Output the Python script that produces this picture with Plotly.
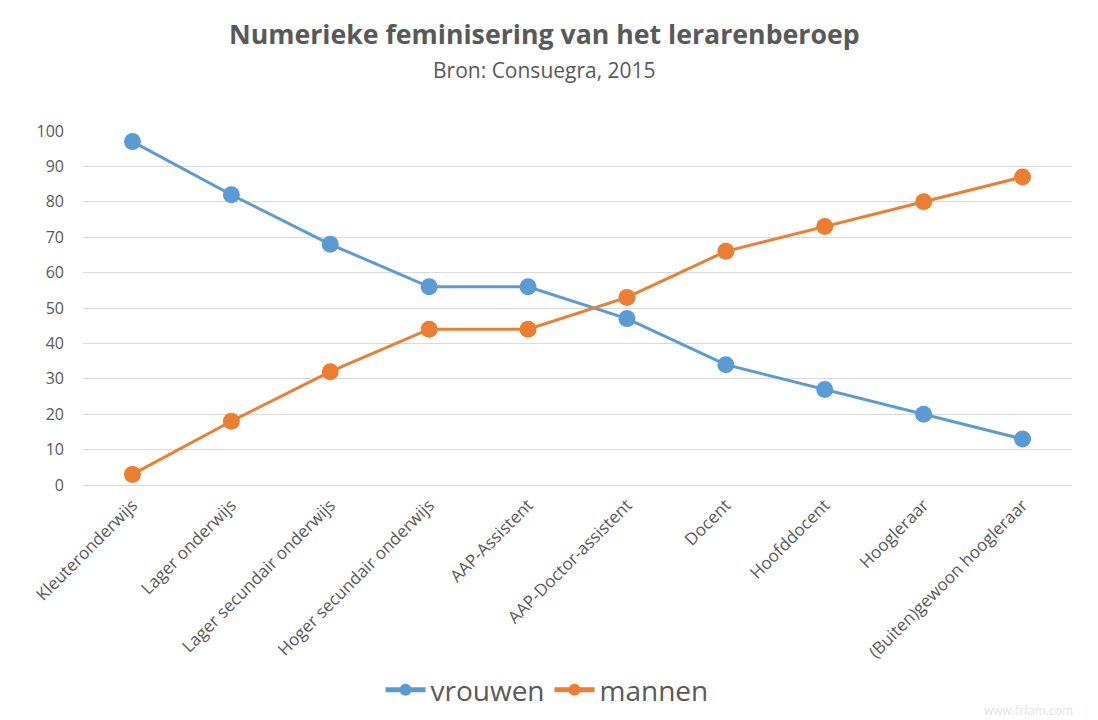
import plotly.graph_objects as go

categories = ["Kleuteronderwijs", "Lager onderwijs", "Lager secundair onderwijs",
              "Hoger secundair onderwijs", "AAP-Assistent", "AAP-Doctor-assistent",
              "Docent", "Hoofddocent", "Hoogleraar", "(Buiten)gewoon hoogleraar"]
vrouwen = [97, 82, 68, 56, 56, 47, 34, 27, 20, 13]
mannen = [3, 18, 32, 44, 44, 53, 66, 73, 80, 87]
y_ticks = [0, 10, 20, 30, 40, 50, 60, 70, 80, 90, 100]

title_text = "Numerieke feminisering van het lerarenberoep"
subtitle_text = "Bron: Consuegra, 2015"

FONT = "Open Sans, Noto Sans, sans-serif"
GREY = "#595959"

fig = go.Figure()
fig.add_trace(go.Scatter(x=categories, y=vrouwen, name="vrouwen", mode="lines+markers",
                         line=dict(color="#5B9BD5", width=3),
                         marker=dict(color="#5B9BD5", size=17)))
fig.add_trace(go.Scatter(x=categories, y=mannen, name="mannen", mode="lines+markers",
                         line=dict(color="#ED7D31", width=3),
                         marker=dict(color="#ED7D31", size=17)))

W, H = 1098, 720
OFF = 8  # page body offset
ml, mr, mt, mb = 83 - OFF, 1098 - (1072 - OFF), 131 - OFF, 720 - (485 - OFF)
ph = H - mt - mb
pw = W - ml - mr

def py(px):
    # px given in screen coords
    return (H - mb - (px - OFF)) / ph

def pxr(px):
    return ((px - OFF) - ml) / pw

fig.update_layout(
    width=W, height=H,
    margin=dict(l=ml, r=mr, t=mt, b=mb),
    paper_bgcolor="white", plot_bgcolor="white",
    font=dict(family=FONT, color=GREY),
    showlegend=True,
    legend=dict(orientation="h", x=pxr(547), xanchor="center", y=py(690), yanchor="middle",
                font=dict(size=28, color=GREY), itemwidth=40, itemsizing="constant"),
    xaxis=dict(type="category", tickangle=-45, tickfont=dict(size=17, color=GREY),
               showgrid=False, showline=False, ticks="", range=[-0.5, len(categories) - 0.5],
               ticklabelstandoff=6),
    yaxis=dict(range=[0, 100], tickvals=y_ticks, tickfont=dict(size=16, color=GREY),
               showgrid=True, gridcolor="#D9D9D9", gridwidth=1, zeroline=True,
               zerolinecolor="#D9D9D9", zerolinewidth=1, showline=False, ticks="",
               ticklabelstandoff=18),
    annotations=[
        dict(text="<b>" + title_text + "</b>", x=pxr(544), y=py(33), xref="paper", yref="paper",
             showarrow=False, font=dict(size=26.7, color=GREY, family=FONT), xanchor="center", yanchor="middle"),
        dict(text=subtitle_text, x=pxr(544), y=py(70), xref="paper", yref="paper",
             showarrow=False, font=dict(size=21, color=GREY, family=FONT), xanchor="center", yanchor="middle"),
        dict(text="www.frfam.com", x=pxr(1075), y=py(710), xref="paper", yref="paper",
             showarrow=False, font=dict(size=12, color="#E4E4E4", family=FONT), xanchor="right", yanchor="middle"),
    ],
)

fig.write_html("out.html")
